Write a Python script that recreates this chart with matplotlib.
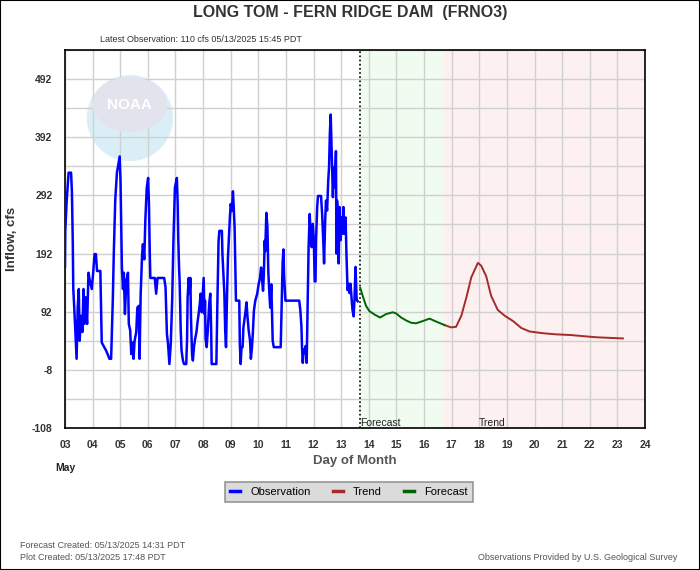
import matplotlib
matplotlib.use("Agg")
import matplotlib.pyplot as plt
from matplotlib.patches import Ellipse, Rectangle

plt.rcParams['axes.unicode_minus'] = False

# observed inflow, day of month (May) vs cfs
obs_days = [3.00, 3.01, 3.06, 3.13, 3.22, 3.25, 3.28, 3.30, 3.34, 3.39, 3.42, 3.46, 3.50, 3.53, 3.58,
            3.63, 3.67, 3.70, 3.74, 3.80, 3.85, 3.90, 3.97, 4.02, 4.07, 4.12, 4.16, 4.28, 4.31, 4.33,
            4.49, 4.61, 4.67, 4.73, 4.77, 4.82, 4.88, 4.94, 4.98, 5.01, 5.04, 5.06, 5.10, 5.13, 5.17,
            5.22, 5.28, 5.31, 5.36, 5.40, 5.45, 5.48, 5.52, 5.58, 5.62, 5.67, 5.70, 5.74, 5.79, 5.82,
            5.87, 5.91, 5.96, 6.01, 6.04, 6.07, 6.09, 6.25, 6.30, 6.35, 6.59, 6.64, 6.69, 6.73, 6.78,
            6.83, 6.88, 6.93, 6.98, 7.05, 7.08, 7.10, 7.13, 7.15, 7.19, 7.22, 7.27, 7.31, 7.39, 7.42,
            7.44, 7.48, 7.51, 7.54, 7.56, 7.60, 7.63, 7.67, 7.71, 7.76, 7.79, 7.83, 7.88, 7.91, 7.95,
            7.99, 8.02, 8.05, 8.07, 8.09, 8.13, 8.17, 8.22, 8.26, 8.29, 8.31, 8.48, 8.52, 8.56, 8.59,
            8.68, 8.70, 8.74, 8.77, 8.80, 8.83, 8.86, 8.90, 8.93, 8.97, 9.00, 9.04, 9.08, 9.11, 9.14,
            9.16, 9.19, 9.31, 9.33, 9.36, 9.39, 9.43, 9.46, 9.50, 9.54, 9.57, 9.61, 9.65, 9.70, 9.73,
            9.77, 9.80, 9.84, 9.89, 9.96, 10.01, 10.06, 10.10, 10.13, 10.17, 10.20, 10.23, 10.25, 10.29,
            10.33, 10.36, 10.40, 10.43, 10.47, 10.50, 10.52, 10.56, 10.81, 10.83, 10.86, 10.88, 10.91,
            10.93, 10.96, 10.98, 11.48, 11.52, 11.56, 11.58, 11.61, 11.64, 11.68, 11.71, 11.75, 11.79,
            11.82, 11.86, 11.90, 11.93, 11.97, 12.01, 12.04, 12.07, 12.09, 12.13, 12.16, 12.27, 12.31,
            12.35, 12.38, 12.42, 12.45, 12.49, 12.53, 12.56, 12.59, 12.62, 12.66, 12.70, 12.73, 12.77,
            12.81, 12.83, 12.85, 12.89, 12.91, 12.94, 12.98, 13.01, 13.05, 13.08, 13.12, 13.16, 13.19,
            13.23, 13.27, 13.30, 13.34, 13.38, 13.41, 13.45, 13.48, 13.52, 13.56, 13.60]
obs_cfs = [170, 231, 282, 331, 331, 299, 217, 131, 94, 42, 11, 99, 131, 42, 85,
           57, 131, 71, 117, 71, 159, 145, 131, 159, 191, 191, 162, 162, 88, 39,
           25, 11, 11, 111, 199, 285, 331, 348, 359, 317, 234, 168, 131, 159, 88,
           145, 159, 71, 60, 19, 39, 11, 42, 57, 99, 102, 11, 123, 188, 208,
           182, 251, 305, 322, 277, 191, 150, 150, 123, 150, 150, 134, 54, 37, 2,
           37, 111, 222, 305, 322, 277, 219, 167, 145, 60, 25, 8, 2, 2, 45,
           117, 150, 123, 150, 85, 19, 8, 31, 45, 57, 71, 85, 105, 123, 91,
           123, 150, 88, 111, 45, 31, 60, 105, 123, 65, 2, 2, 114, 214, 231,
           231, 191, 150, 123, 60, 31, 105, 185, 214, 254, 277, 265, 299, 271, 237,
           188, 111, 111, 37, 2, 31, 31, 65, 79, 94, 108, 82, 60, 42, 11,
           31, 54, 94, 111, 123, 139, 150, 168, 150, 128, 156, 214, 196, 262,
           237, 162, 123, 99, 139, 77, 42, 31, 31, 71, 131, 177, 199,
           156, 131, 111, 111, 95, 67, 33, 4, 27, 21, 33, 4, 124,
           203, 260, 220, 203, 243, 215, 144, 144, 215, 272, 291, 291, 260,
           215, 175, 249, 283, 266, 317, 340, 399, 431, 362, 289, 340, 306,
           368, 192, 283, 249, 175, 272, 215, 254, 226, 272, 226, 254, 192,
           129, 140, 124, 140, 112, 95, 84, 112, 169, 112, 110]

fcst_days = [13.69, 13.78, 13.90, 14.02, 14.21, 14.41, 14.63, 14.87, 14.99, 15.17, 15.35,
             15.53, 15.71, 15.90, 16.20, 16.44, 16.74]
fcst_cfs = [133, 119, 102, 93, 87, 82, 88, 91, 89, 82, 77, 73, 72, 75, 80, 75, 69]

trend_days = [16.74, 16.98, 17.16, 17.35, 17.53, 17.71, 17.95, 18.07, 18.25, 18.43, 18.67,
              18.92, 19.22, 19.52, 19.82, 20.30, 20.79, 21.27, 21.75, 22.24, 22.72, 23.20]
trend_cfs = [69, 65, 66, 85, 116, 151, 176, 171, 153, 119, 95, 85, 76, 64, 58, 55, 53, 52,
             50, 48, 47, 46]

day_ticks = list(range(3, 25))
y_ticks = [-108, -8, 92, 192, 292, 392, 492]

sans = ['Liberation Sans', 'DejaVu Sans']

fig = plt.figure(figsize=(7, 5.7), dpi=100)
ax = fig.add_axes([65 / 700, 1 - 428 / 570, 580 / 700, 378 / 570])

fstart = fcst_days[0]
tstart = trend_days[0]
ax.axvspan(fstart, tstart, color='#f0fcf0', zorder=0)
ax.axvspan(tstart, 24, color='#fdf0f0', zorder=0)

# faint NOAA watermark
ax.add_patch(Ellipse((5.35, 425), 3.12, 148, color='#d9eef7', zorder=0.5, lw=0))
ax.add_patch(Ellipse((5.35, 448), 2.7, 95, color='#e3e3ee', zorder=0.6, lw=0))
ax.text(5.35, 448, 'NOAA', color='white', fontsize=11, fontweight='bold', family=sans,
        ha='center', va='center', zorder=0.7)

ax.set_xticks(day_ticks)
ax.set_xticklabels(['%02d' % d for d in day_ticks])
ax.set_yticks(y_ticks)
ax.set_yticks([v + 50 for v in y_ticks], minor=True)
ax.grid(True, which='both', color='#d0d0d0', lw=1, zorder=1)
ax.set_axisbelow(True)
ax.set_xlim(3, 24)
ax.set_ylim(-108, 542)
ax.tick_params(length=0, labelsize=7.5, colors='#333333', pad=9)
ax.tick_params(axis='y', which='minor', length=0)
for lab in ax.get_xticklabels() + ax.get_yticklabels():
    lab.set_fontweight('bold')
    lab.set_family(sans)
for sp in ax.spines.values():
    sp.set_color('black')
    sp.set_linewidth(1.2)

ax.axvline(fstart, color='black', ls=(0, (1, 1.5)), lw=1.2, zorder=3)

l1, = ax.plot(obs_days, obs_cfs, color='#0000ff', lw=1.8, zorder=4, label='Observation')
l2, = ax.plot(trend_days, trend_cfs, color='#a52a2a', lw=1.4, zorder=4, label='Trend')
l3, = ax.plot(fcst_days, fcst_cfs, color='#006400', lw=1.4, zorder=4, label='Forecast')

ax.text(fstart, -108, 'Forecast', fontsize=7.5, family=sans, ha='left', va='bottom', color='#222222')
ax.text(18.0, -108, 'Trend', fontsize=7.5, family=sans, ha='left', va='bottom', color='#222222')

ax.set_ylabel('Inflow, cfs', fontsize=9.5, fontweight='bold', color='#333333', family=sans,
              va='center')
ax.yaxis.set_label_coords(-53 / 580, 0.5)
ax.set_xlabel('Day of Month', fontsize=9.5, fontweight='bold', color='#555555', labelpad=3,
              family=sans)

fig.text(350 / 700, 1 - 13 / 570, 'LONG TOM - FERN RIDGE DAM  (FRNO3)', fontsize=11.5,
         fontweight='bold', color='#333333', ha='center', va='center', family=sans)
fig.text(100 / 700, 1 - 40 / 570, 'Latest Observation: 110 cfs 05/13/2025 15:45 PDT', fontsize=6.5,
         color='#333333', ha='left', va='center', family=sans)
fig.text(65 / 700, 1 - 468 / 570, 'May', fontsize=7.5, fontweight='bold', color='#222222',
         ha='center', va='center', family=sans)
fig.text(20 / 700, 1 - 545 / 570, 'Forecast Created: 05/13/2025 14:31 PDT', fontsize=6.5,
         color='#555555', ha='left', va='center', family=sans)
fig.text(20 / 700, 1 - 557 / 570, 'Plot Created: 05/13/2025 17:48 PDT', fontsize=6.5,
         color='#555555', ha='left', va='center', family=sans)
fig.text(677 / 700, 1 - 557 / 570, 'Observations Provided by U.S. Geological Survey', fontsize=6.5,
         color='#555555', ha='right', va='center', family=sans)

leg = fig.legend(handles=[l1, l2, l3], loc='center', bbox_to_anchor=(349 / 700, 1 - 492 / 570),
                 ncol=3, frameon=True, fancybox=False, handlelength=0.9,
                 handletextpad=0.9, columnspacing=2.0, borderpad=0.45,
                 prop={'family': sans, 'size': 8})
leg.get_frame().set_facecolor('#d3d3d3')
leg.get_frame().set_edgecolor('#808080')
leg.get_frame().set_linewidth(1.2)
for ln in leg.get_lines():
    ln.set_linewidth(2.5)

fig.add_artist(Rectangle((0, 0), 1, 1, transform=fig.transFigure, fill=False,
                         edgecolor='black', lw=1.5))

fig.savefig('out.png', dpi=100)
